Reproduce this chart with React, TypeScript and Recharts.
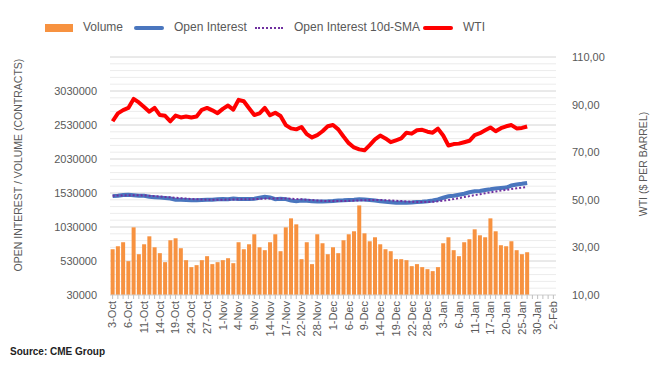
import React from 'react';
import {
  ComposedChart,
  Bar,
  Line,
  XAxis,
  YAxis,
  CartesianGrid,
} from 'recharts';

const dates = [
  '3-Oct', '4-Oct', '5-Oct', '6-Oct', '7-Oct', '10-Oct', '11-Oct', '12-Oct', '13-Oct', '14-Oct',
  '17-Oct', '18-Oct', '19-Oct', '20-Oct', '21-Oct', '24-Oct', '25-Oct', '26-Oct', '27-Oct', '28-Oct',
  '31-Oct', '1-Nov', '2-Nov', '3-Nov', '4-Nov', '7-Nov', '8-Nov', '9-Nov', '10-Nov', '11-Nov',
  '14-Nov', '15-Nov', '16-Nov', '17-Nov', '18-Nov', '21-Nov', '22-Nov', '23-Nov', '25-Nov', '28-Nov',
  '29-Nov', '30-Nov', '1-Dec', '2-Dec', '5-Dec', '6-Dec', '7-Dec', '8-Dec', '9-Dec', '12-Dec',
  '13-Dec', '14-Dec', '15-Dec', '16-Dec', '19-Dec', '20-Dec', '21-Dec', '22-Dec', '23-Dec', '27-Dec',
  '28-Dec', '29-Dec', '30-Dec', '3-Jan', '4-Jan', '5-Jan', '6-Jan', '9-Jan', '10-Jan', '11-Jan',
  '12-Jan', '13-Jan', '17-Jan', '18-Jan', '19-Jan', '20-Jan', '23-Jan', '24-Jan', '25-Jan', '26-Jan',
  '27-Jan', '30-Jan', '31-Jan', '1-Feb', '2-Feb',
];

const volume = [
  703000, 747000, 806000, 528000, 1025000, 630000, 776000, 893000, 732000, 645000,
  513000, 835000, 864000, 718000, 542000, 440000, 469000, 542000, 601000, 484000,
  513000, 542000, 571000, 498000, 806000, 703000, 776000, 923000, 732000, 689000,
  806000, 923000, 674000, 1025000, 1157000, 1069000, 557000, 806000, 484000, 923000,
  791000, 630000, 732000, 645000, 835000, 923000, 967000, 1347000, 937000, 820000,
  879000, 776000, 703000, 674000, 557000, 557000, 542000, 454000, 484000, 440000,
  410000, 381000, 440000, 791000, 879000, 689000, 601000, 806000, 850000, 996000,
  908000, 879000, 1157000, 967000, 762000, 747000, 820000, 689000, 630000, 659000,
];

const openInterest = [
  1484000, 1490000, 1500000, 1503000, 1498000, 1490000, 1488000, 1475000, 1468000, 1462000,
  1455000, 1450000, 1432000, 1430000, 1428000, 1425000, 1425000, 1428000, 1430000, 1432000,
  1438000, 1440000, 1438000, 1450000, 1442000, 1440000, 1440000, 1445000, 1460000, 1475000,
  1465000, 1438000, 1445000, 1440000, 1420000, 1410000, 1418000, 1415000, 1410000, 1405000,
  1406000, 1408000, 1412000, 1420000, 1422000, 1428000, 1432000, 1438000, 1435000, 1428000,
  1420000, 1410000, 1400000, 1395000, 1386000, 1390000, 1388000, 1391000, 1398000, 1402000,
  1410000, 1420000, 1435000, 1460000, 1482000, 1490000, 1505000, 1520000, 1540000, 1555000,
  1560000, 1575000, 1585000, 1598000, 1605000, 1610000, 1640000, 1655000, 1665000, 1678000,
];

const openInterestSma = [
  1490000, 1492000, 1494000, 1496000, 1497000, 1496000, 1494000, 1490000, 1484000, 1478000,
  1472000, 1466000, 1460000, 1454000, 1448000, 1442000, 1438000, 1434000, 1432000, 1431000,
  1431000, 1432000, 1433000, 1435000, 1437000, 1438000, 1439000, 1440000, 1443000, 1447000,
  1450000, 1450000, 1450000, 1449000, 1446000, 1442000, 1437000, 1432000, 1426000, 1420000,
  1415000, 1412000, 1411000, 1412000, 1413000, 1415000, 1418000, 1421000, 1424000, 1427000,
  1428000, 1427000, 1424000, 1420000, 1416000, 1411000, 1406000, 1401000, 1398000, 1397000,
  1398000, 1401000, 1407000, 1416000, 1428000, 1440000, 1455000, 1470000, 1484000, 1498000,
  1512000, 1526000, 1540000, 1553000, 1565000, 1576000, 1588000, 1600000, 1610000, 1618000,
];

const wti = [
  83.0, 86.3, 87.7, 88.6, 92.4, 90.9, 89.0, 87.0, 88.6, 85.6,
  85.3, 83.0, 85.4, 84.6, 85.0, 84.6, 85.0, 87.8, 88.6, 87.6,
  86.4, 88.2, 89.6, 87.9, 92.0, 91.4, 88.5, 85.6, 86.3, 88.6,
  85.5, 86.6, 85.2, 81.4, 80.0, 79.6, 80.6, 77.6, 76.2, 77.2,
  78.8, 80.9, 81.4, 79.6, 76.6, 73.8, 72.0, 71.2, 70.8, 73.0,
  75.4, 77.0, 75.8, 74.2, 75.0, 75.8, 78.2, 77.8, 79.2, 79.4,
  78.6, 78.2, 79.9, 77.0, 72.8, 73.4, 73.6, 74.2, 74.8, 77.2,
  78.0, 79.2, 80.4, 78.8, 80.1, 80.9, 81.4, 80.0, 80.2, 80.8,
];

const leftTicks = [30000, 530000, 1030000, 1530000, 2030000, 2530000, 3030000];
const rightTicks = [10, 30, 50, 70, 90, 110];

const majorGrid = [530000, 1030000, 1530000, 2030000, 2530000, 3030000, 3530000];
const minorGrid = Array.from({ length: 35 }, (_, k) => 30000 + (k + 1) * 100000).filter(
  (v) => !majorGrid.includes(v)
);

const chartData = dates.map((date, i) => ({
  date,
  volume: volume[i],
  oi: openInterest[i],
  sma: openInterestSma[i],
  wti: wti[i],
}));

const FONT = "'Liberation Sans', Arial, sans-serif";
const GREY = '#595959';

const XTick = (props: any) => {
  const { x, y, payload } = props;
  const i = payload?.index ?? props.index;
  if (i % 3 !== 0) return <g />;
  return (
    <text
      x={x}
      y={y}
      transform={`rotate(-90, ${x}, ${y})`}
      textAnchor="end"
      dy="0.35em"
      fontSize={11}
      fontFamily={FONT}
      fill={GREY}
    >
      {payload.value}
    </text>
  );
};

const legendText: React.CSSProperties = {
  position: 'absolute',
  top: 20,
  fontSize: 12,
  color: GREY,
  whiteSpace: 'nowrap',
};

const axisTitle: React.CSSProperties = {
  position: 'absolute',
  transform: 'translate(-50%, -50%) rotate(-90deg)',
  fontSize: 10.5,
  color: GREY,
  whiteSpace: 'nowrap',
};

const App: React.FC = () => {
  return (
    <div
      style={{
        position: 'absolute',
        left: 0,
        top: 0,
        width: 665,
        height: 372,
        background: '#fff',
        fontFamily: FONT,
      }}
    >
      {/* legend */}
      <div style={{ position: 'absolute', left: 45, top: 24, width: 28, height: 8, background: '#f79240' }} />
      <div style={{ ...legendText, left: 83 }}>Volume</div>
      <div style={{ position: 'absolute', left: 134, top: 26, width: 30, height: 4, borderRadius: 2, background: '#4a76be' }} />
      <div style={{ ...legendText, left: 174 }}>Open Interest</div>
      <div style={{ position: 'absolute', left: 255, top: 27, width: 28, height: 0, borderTop: '2px dotted #7030a0' }} />
      <div style={{ ...legendText, left: 294 }}>Open Interest 10d-SMA</div>
      <div style={{ position: 'absolute', left: 423, top: 26, width: 30, height: 4, borderRadius: 2, background: '#ff0000' }} />
      <div style={{ ...legendText, left: 463 }}>WTI</div>

      <ComposedChart
        width={665}
        height={372}
        data={chartData}
        margin={{ top: 57, right: 9, bottom: 32, left: 15 }}
        barCategoryGap="12%"
      >
        <CartesianGrid yAxisId="left" vertical={false} horizontalValues={minorGrid} stroke="#ececec" />
        <CartesianGrid yAxisId="left" vertical={false} horizontalValues={majorGrid} stroke="#d4d4d4" />
        <XAxis
          dataKey="date"
          interval={0}
          tick={<XTick />}
          tickSize={4}
          tickMargin={2}
          height={45}
          axisLine={{ stroke: '#d0d0d0' }}
          tickLine={{ stroke: '#bfbfbf' }}
        />
        <YAxis
          yAxisId="left"
          orientation="left"
          width={95}
          domain={[30000, 3530000]}
          ticks={leftTicks}
          interval={0}
          axisLine={false}
          tickLine={false}
          tickSize={0}
          tickMargin={13}
          tick={{ fontSize: 11, fill: GREY, fontFamily: FONT }}
        />
        <YAxis
          yAxisId="right"
          orientation="right"
          width={100}
          domain={[10, 110]}
          ticks={rightTicks}
          interval={0}
          axisLine={false}
          tickLine={false}
          tickSize={0}
          tickMargin={16}
          tickFormatter={(v: number) => v.toFixed(2).replace('.', ',')}
          tick={{ fontSize: 11, fill: GREY, fontFamily: FONT }}
        />
        <Bar yAxisId="left" dataKey="volume" fill="#f79240" isAnimationActive={false} />
        <Line
          yAxisId="left"
          dataKey="oi"
          stroke="#4a76be"
          strokeWidth={4}
          dot={false}
          activeDot={false}
          isAnimationActive={false}
        />
        <Line
          yAxisId="left"
          dataKey="sma"
          stroke="#7030a0"
          strokeWidth={2}
          strokeDasharray="2 2"
          dot={false}
          activeDot={false}
          isAnimationActive={false}
        />
        <Line
          yAxisId="right"
          dataKey="wti"
          stroke="#ff0000"
          strokeWidth={4}
          strokeLinejoin="round"
          dot={false}
          activeDot={false}
          isAnimationActive={false}
        />
      </ComposedChart>

      <div style={{ ...axisTitle, left: 18, top: 165 }}>OPEN INTEREST / VOLUME (CONTRACTS)</div>
      <div style={{ ...axisTitle, left: 643, top: 164 }}>WTI ($ PER BARREL)</div>
      <div
        style={{
          position: 'absolute',
          left: 10,
          top: 346,
          fontSize: 10,
          fontWeight: 'bold',
          color: '#222',
          whiteSpace: 'nowrap',
        }}
      >
        Source: CME Group
      </div>
    </div>
  );
};

export default App;
